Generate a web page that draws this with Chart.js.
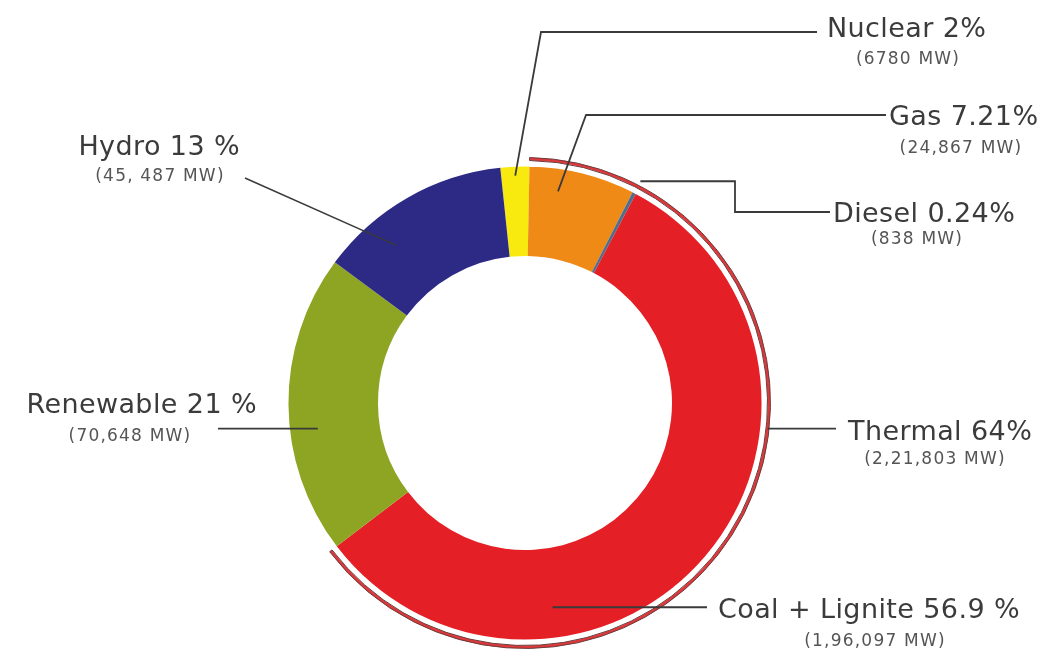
<!DOCTYPE html>
<html>
<head>
<meta charset="utf-8">
<title>Installed capacity by source</title>
<script src="https://cdn.jsdelivr.net/npm/chart.js@4.4.1/dist/chart.umd.min.js"></script>
<style>
  html, body { margin: 0; padding: 0; background: #fff; }
  #wrap { width: 1043px; height: 655px; position: relative; }
</style>
</head>
<body>
<div id="wrap"><canvas id="grafico"></canvas></div>
<script>
// installed capacity per source, clockwise from the top
const sources = ["Nuclear", "Gas", "Diesel", "Coal + Lignite", "Renewable", "Hydro"];
const capacityMW = [6780, 24867, 838, 196097, 70648, 45487];
const shareText = ["2%", "7.21%", "0.24%", "56.9 %", "21 %", "13 %"];
const capacityText = ["(6780 MW)", "(24,867 MW)", "(838 MW)", "(1,96,097 MW)", "(70,648 MW)", "(45, 487 MW)"];
const sourceColors = ["#f8e90e", "#ef8a17", "#4f6f8c", "#e41f25", "#8ea523", "#2d2a86"];

// thermal = gas + diesel + coal, shown as a thin arc outside the ring
const thermalLabel = "Thermal";
const thermalMW = 221803;
const thermalShare = "64%";
const thermalText = "(2,21,803 MW)";

const outerData = [capacityMW[0], thermalMW, capacityMW[4], capacityMW[5]];
const outerColors = ["transparent", "#e0383a", "transparent", "transparent"];

const TITLE_FONT = "27px 'DejaVu Sans', sans-serif";
const SUB_FONT = "17px 'DejaVu Sans', sans-serif";

// ring: 0 = thin thermal arc, 2 = main ring
// along/depth place the start of the leader line inside the slice
const labelLayout = [
  {
    ring: 2, index: 0, along: 0.5, depth: 0.9,
    title: sources[0] + " " + shareText[0], sub: capacityText[0],
    path: (x, y) => [[x, y], [541, 32], [817, 32]],
    tx: 827, ty: 37, align: "left", sx: 908, sy: 64
  },
  {
    ring: 2, index: 1, along: 0.3, depth: 0.75,
    title: sources[1] + " " + shareText[1], sub: capacityText[1],
    path: (x, y) => [[x, y], [586, 115], [886, 115]],
    tx: 889, ty: 125, align: "left", sx: 961, sy: 153
  },
  {
    ring: 2, index: 2, along: 0.5, depth: 1.15,
    title: sources[2] + " " + shareText[2], sub: capacityText[2],
    path: (x, y) => [[x, y], [735, y], [735, 212], [830, 212]],
    tx: 833, ty: 222, align: "left", sx: 917, sy: 244
  },
  {
    ring: 0, index: 1, along: 0.41, depth: 0.5,
    title: thermalLabel + " " + thermalShare, sub: thermalText,
    path: (x, y) => [[x, y], [836, y]],
    tx: 848, ty: 440, align: "left", sx: 935, sy: 464
  },
  {
    ring: 2, index: 3, along: 0.705, depth: 0.66,
    title: sources[3] + " " + shareText[3], sub: capacityText[3],
    path: (x, y) => [[x, y], [707, y]],
    tx: 718, ty: 618, align: "left", sx: 875, sy: 646
  },
  {
    ring: 2, index: 4, along: 0.41, depth: 0.69,
    title: sources[4] + " " + shareText[4], sub: capacityText[4],
    path: (x, y) => [[218, y], [x, y]],
    tx: 257, ty: 413, align: "right", sx: 130, sy: 441
  },
  {
    ring: 2, index: 5, along: 0.3, depth: 0.63, thin: true,
    title: sources[5] + " " + shareText[5], sub: capacityText[5],
    path: (x, y) => [[245, 178], [x, y]],
    tx: 240, ty: 155, align: "right", sx: 160, sy: 181
  }
];

// draws the leader lines and the two-line labels after the rings
const leaderLabels = {
  id: "leaderLabels",
  afterDraw(chart) {
    const ctx = chart.ctx;
    ctx.save();
    labelLayout.forEach(item => {
      const arc = chart.getDatasetMeta(item.ring).data[item.index];
      const ang = arc.startAngle + (arc.endAngle - arc.startAngle) * item.along;
      const r = arc.innerRadius + (arc.outerRadius - arc.innerRadius) * item.depth;
      const ax = arc.x + r * Math.cos(ang);
      const ay = arc.y + r * Math.sin(ang);

      const pts = item.path(ax, ay);
      ctx.beginPath();
      ctx.moveTo(pts[0][0], pts[0][1]);
      pts.slice(1).forEach(p => ctx.lineTo(p[0], p[1]));
      ctx.strokeStyle = "#3a3a3a";
      ctx.lineWidth = item.thin ? 1.4 : 1.8;
      ctx.lineJoin = "miter";
      ctx.stroke();

      ctx.fillStyle = "#3b3b3b";
      ctx.font = TITLE_FONT;
      ctx.textAlign = item.align;
      ctx.textBaseline = "alphabetic";
      ctx.letterSpacing = "0.4px";
      ctx.fillText(item.title, item.tx, item.ty);

      ctx.fillStyle = "#555";
      ctx.font = SUB_FONT;
      ctx.textAlign = "center";
      ctx.letterSpacing = "1.2px";
      ctx.fillText(item.sub, item.sx, item.sy);
    });
    ctx.restore();
  }
};

const grafico = new Chart(document.getElementById("grafico"), {
  type: "doughnut",
  data: {
    labels: sources,
    datasets: [
      {
        label: thermalLabel,
        data: outerData,
        backgroundColor: outerColors,
        borderColor: ["transparent", "#6a3c3c", "transparent", "transparent"],
        borderWidth: 1,
        weight: 3
      },
      {
        // white gap between the thermal arc and the ring
        data: outerData,
        backgroundColor: "transparent",
        borderWidth: 0,
        weight: 6
      },
      {
        label: "Capacity (MW)",
        data: capacityMW,
        backgroundColor: sourceColors,
        borderWidth: 0,
        weight: 90
      }
    ]
  },
  options: {
    responsive: true,
    maintainAspectRatio: false,
    animation: false,
    events: [],
    rotation: -6,
    cutout: 147,
    layout: {
      padding: { top: 157, bottom: 6, left: 279, right: 272 }
    },
    plugins: {
      legend: { display: false },
      tooltip: { enabled: false }
    }
  },
  plugins: [leaderLabels]
});
</script>
</body>
</html>
